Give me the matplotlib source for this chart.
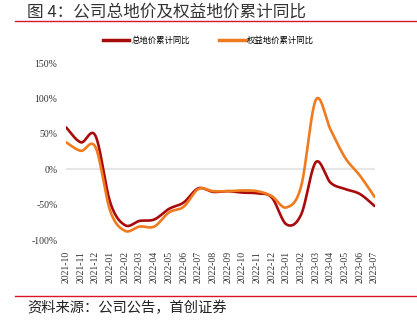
import numpy as np
import matplotlib
matplotlib.use("Agg")
import matplotlib.pyplot as plt
from matplotlib.lines import Line2D

plt.rcParams['font.family'] = ['Noto Sans CJK SC', 'DejaVu Sans']

months = ["2021-10", "2021-11", "2021-12", "2022-01", "2022-02", "2022-03",
          "2022-04", "2022-05", "2022-06", "2022-07", "2022-08", "2022-09",
          "2022-10", "2022-11", "2022-12", "2023-01", "2023-02", "2023-03",
          "2023-04", "2023-05", "2023-06", "2023-07"]
total_yoy = [59, 38, 47, -47, -79, -73, -71, -56, -47, -27, -32, -31,
             -33, -34, -40, -78, -64, 10, -19, -28, -35, -52]
equity_yoy = [38, 26, 31, -59, -87, -81, -81, -61, -53, -28, -31, -31,
              -30, -31, -38, -54, -24, 98, 56, 16, -9, -39]
series_names = ["总地价累计同比", "权益地价累计同比"]
series_colors = ["#A80B0B", "#F07A1E"]
y_ticks = [-100, -50, 0, 50, 100, 150]


def smooth(x, y, n=30):
    """Bezier smoothing through every point (tangents from neighbours)."""
    x = np.asarray(x, float)
    y = np.asarray(y, float)
    px = np.concatenate([[x[0]], x, [x[-1]]])
    py = np.concatenate([[y[0]], y, [y[-1]]])
    xs, ys = [], []
    t = np.linspace(0, 1, n)
    for i in range(1, len(px) - 2):
        p0 = np.array([px[i], py[i]])
        p3 = np.array([px[i + 1], py[i + 1]])
        c1 = p0 + (np.array([px[i + 1], py[i + 1]]) - np.array([px[i - 1], py[i - 1]])) / 6
        c2 = p3 - (np.array([px[i + 2], py[i + 2]]) - np.array([px[i], py[i]])) / 6
        b = ((1 - t) ** 3)[:, None] * p0 + (3 * (1 - t) ** 2 * t)[:, None] * c1 \
            + (3 * (1 - t) * t ** 2)[:, None] * c2 + (t ** 3)[:, None] * p3
        xs.append(b[:, 0])
        ys.append(b[:, 1])
    return np.concatenate(xs), np.concatenate(ys)


fig = plt.figure(figsize=(4.17, 3.25), dpi=100)
ax = fig.add_axes([0.158, 0.2615, 0.741, 0.5445])

x = np.arange(len(months))
for vals, name, col in zip([total_yoy, equity_yoy], series_names, series_colors):
    sx, sy = smooth(x, vals)
    ax.plot(sx, sy, color=col, lw=1.9, solid_capstyle='round', label=name, zorder=3)

ax.axhline(0, color="#E6E6E6", lw=1.5, zorder=1)
ax.set_xlim(-0.02, len(months) - 1 + 0.02)
ax.set_ylim(-100, 150)
ax.set_yticks(y_ticks)
ax.set_yticklabels([f"{v}%" for v in y_ticks], family="Liberation Serif", fontsize=7, color="#333333")
ax.set_xticks(x)
ax.set_xticklabels(months, rotation=90, family="Liberation Serif", fontsize=7, color="#333333")
ax.tick_params(length=0, pad=6)
ax.tick_params(axis='x', pad=8)
for s in ax.spines.values():
    s.set_visible(False)

handles = [Line2D([], [], color=c, lw=2.5) for c in series_colors]
fig.legend(handles, series_names, loc="center", bbox_to_anchor=(0.5, 0.877), ncol=2,
           frameon=False, fontsize=6, handlelength=3.2, handletextpad=0.2,
           columnspacing=3.5)

fig.text(0.065, 0.99, "图 4：公司总地价及权益地价累计同比", fontsize=12,
         va="top", ha="left", color="#333333", weight="light")
fig.add_artist(Line2D([0.036, 1.0], [0.935, 0.935], color="#D7182A", lw=1.0,
                      transform=fig.transFigure))
fig.add_artist(Line2D([0.036, 1.0], [0.088, 0.088], color="#D7182A", lw=1.0,
                      transform=fig.transFigure))
fig.text(0.065, 0.052, "资料来源：公司公告，首创证券", fontsize=10.3, va="center",
         ha="left", color="#222222", style="italic", weight="light")

fig.savefig("out.png", dpi=100)
